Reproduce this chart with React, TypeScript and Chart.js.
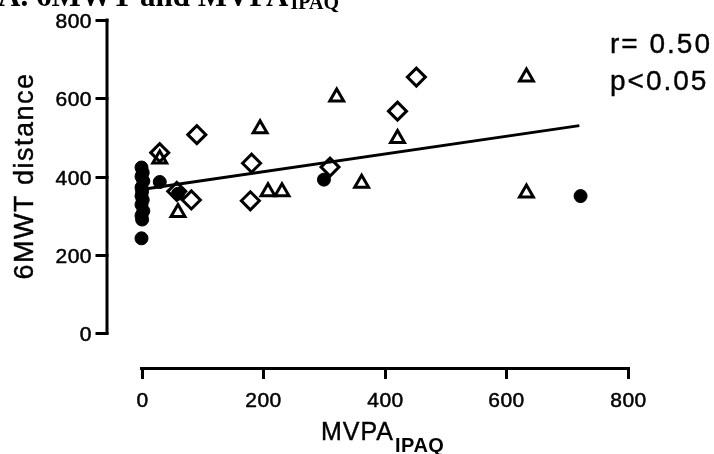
import React, { useEffect, useRef } from "react";
import { Chart, registerables } from "chart.js";

Chart.register(...registerables);

// Group 1: filled circles
const circleX = [0, 2, 0, 3, 0, 1, 0, 2, 0, 3, 0, 1, 0, 30, 60, 300, 722];
const circleY = [423, 410, 400, 388, 372, 362, 350, 340, 328, 312, 300, 290, 242, 386, 356, 392, 350];

// Group 2: open diamonds
const diamondX = [30, 91, 58, 82, 181, 179, 310, 421, 452];
const diamondY = [461, 507, 362, 340, 434, 338, 424, 567, 654];

// Group 3: open triangles
const triangleX = [30, 60, 195, 208, 231, 321, 362, 421, 633, 633];
const triangleY = [445, 308, 522, 361, 361, 603, 383, 497, 654, 358];

// Regression line end points
const regX = [0, 720];
const regY = [367, 530];

const xTicks = [0, 200, 400, 600, 800];
const yTicks = [0, 200, 400, 600, 800];

const titleMain = "A. 6MWT and MVPA";
const titleSub = "IPAQ";
const yTitle = "6MWT distance";
const xTitleMain = "MVPA";
const xTitleSub = "IPAQ";
const statLines = ["r= 0.50", "p<0.05"];

const SANS = "'Liberation Sans', Arial, sans-serif";
const SERIF = "'Liberation Serif', 'Times New Roman', serif";

function heavyText(ctx: any, text: string, x: number, y: number, w = 0.5) {
  ctx.fillText(text, x, y);
  ctx.lineWidth = w;
  ctx.strokeText(text, x, y);
}

const prismPlugin = {
  id: "prismAxes",
  afterDraw(chart: any) {
    const { ctx, chartArea, scales } = chart;
    const xs = scales.x;
    const ys = scales.y;
    ctx.save();
    ctx.strokeStyle = "#000";
    ctx.fillStyle = "#000";
    ctx.lineCap = "square";
    ctx.lineJoin = "miter";

    // Y axis (detached)
    const axX = chartArea.left - 34.5;
    ctx.lineWidth = 3;
    ctx.beginPath();
    ctx.moveTo(axX, ys.getPixelForValue(yTicks[yTicks.length - 1]));
    ctx.lineTo(axX, ys.getPixelForValue(yTicks[0]));
    ctx.stroke();
    ctx.font = `21px ${SANS}`;
    (ctx as any).letterSpacing = "0.5px";
    ctx.textAlign = "right";
    ctx.textBaseline = "alphabetic";
    yTicks.forEach((v) => {
      const py = Math.round(ys.getPixelForValue(v)) + 0.5;
      ctx.lineWidth = 3;
      ctx.beginPath();
      ctx.moveTo(axX - 10, py);
      ctx.lineTo(axX, py);
      ctx.stroke();
      heavyText(ctx, String(v), axX - 15, py + 7.5);
    });

    // X axis (detached)
    const axY = chartArea.bottom + 35.5;
    ctx.lineWidth = 3;
    ctx.beginPath();
    ctx.moveTo(xs.getPixelForValue(xTicks[0]), axY);
    ctx.lineTo(xs.getPixelForValue(xTicks[xTicks.length - 1]), axY);
    ctx.stroke();
    ctx.textAlign = "center";
    xTicks.forEach((v) => {
      const px = Math.round(xs.getPixelForValue(v)) + 0.5;
      ctx.lineWidth = 3;
      ctx.beginPath();
      ctx.moveTo(px, axY);
      ctx.lineTo(px, axY + 9);
      ctx.stroke();
      heavyText(ctx, String(v), px, axY + 38);
    });

    // Y title
    ctx.save();
    ctx.translate(33, 176);
    ctx.rotate(-Math.PI / 2);
    ctx.font = `27px ${SANS}`;
    (ctx as any).letterSpacing = "1.5px";
    ctx.textAlign = "center";
    ctx.textBaseline = "alphabetic";
    heavyText(ctx, yTitle, 0, 0, 0.4);
    ctx.restore();

    // X title with subscript
    ctx.textAlign = "left";
    ctx.font = `25px ${SANS}`;
    (ctx as any).letterSpacing = "1px";
    heavyText(ctx, xTitleMain, 321, 440, 0.4);
    const w = ctx.measureText(xTitleMain).width;
    ctx.font = `bold 20px ${SANS}`;
    (ctx as any).letterSpacing = "0.5px";
    ctx.fillText(xTitleSub, 321 + w + 1, 452);

    // Stats text
    ctx.font = `28px ${SANS}`;
    (ctx as any).letterSpacing = "2px";
    heavyText(ctx, statLines[0], 610, 53, 0.4);
    heavyText(ctx, statLines[1], 610, 90, 0.4);

    // Cropped panel title
    ctx.font = `bold 31px ${SERIF}`;
    (ctx as any).letterSpacing = "0px";
    ctx.fillText(titleMain, -2, 6);
    const tw = ctx.measureText(titleMain).width;
    ctx.font = `bold 20px ${SERIF}`;
    ctx.fillText(titleSub, -2 + tw + 2, 9);

    ctx.restore();
  },
};

export default function App() {
  const ref = useRef<HTMLCanvasElement | null>(null);
  useEffect(() => {
    if (!ref.current) return;
    const toPts = (xs: number[], ys: number[]) => xs.map((x, i) => ({ x, y: ys[i] }));
    const chart = new Chart(ref.current, {
      type: "scatter",
      data: {
        datasets: [
          {
            type: "line",
            data: toPts(regX, regY),
            borderColor: "#000",
            borderWidth: 3,
            pointRadius: 0,
            showLine: true,
            fill: false,
            clip: false,
          } as any,
          {
            data: toPts(circleX, circleY),
            pointStyle: "circle",
            pointRadius: 6.5,
            backgroundColor: "#000",
            borderColor: "#000",
            borderWidth: 1,
            clip: false,
          },
          {
            data: toPts(diamondX, diamondY),
            pointStyle: "rectRot",
            pointRadius: 9,
            backgroundColor: "rgba(255,255,255,0)",
            borderColor: "#000",
            borderWidth: 3,
            clip: false,
          },
          {
            data: toPts(triangleX, triangleY),
            pointStyle: "triangle",
            pointRadius: 8,
            backgroundColor: "rgba(255,255,255,0)",
            borderColor: "#000",
            borderWidth: 3,
            clip: false,
          },
        ],
      },
      options: {
        responsive: false,
        animation: false,
        devicePixelRatio: 1,
        layout: { padding: { left: 141.5, right: 86, top: 20, bottom: 121 } },
        plugins: {
          legend: { display: false },
          title: { display: false },
          tooltip: { enabled: false },
        },
        scales: {
          x: { type: "linear", min: 0, max: 800, display: false },
          y: { type: "linear", min: 0, max: 800, display: false },
        },
        elements: { line: { tension: 0 } },
      },
      plugins: [prismPlugin],
    });
    return () => chart.destroy();
  }, []);
  return (
    <div style={{ position: "absolute", left: 0, top: 0, width: 714, height: 454, background: "#fff" }}>
      <canvas ref={ref} width={714} height={454} style={{ width: 714, height: 454, display: "block" }} />
    </div>
  );
}
